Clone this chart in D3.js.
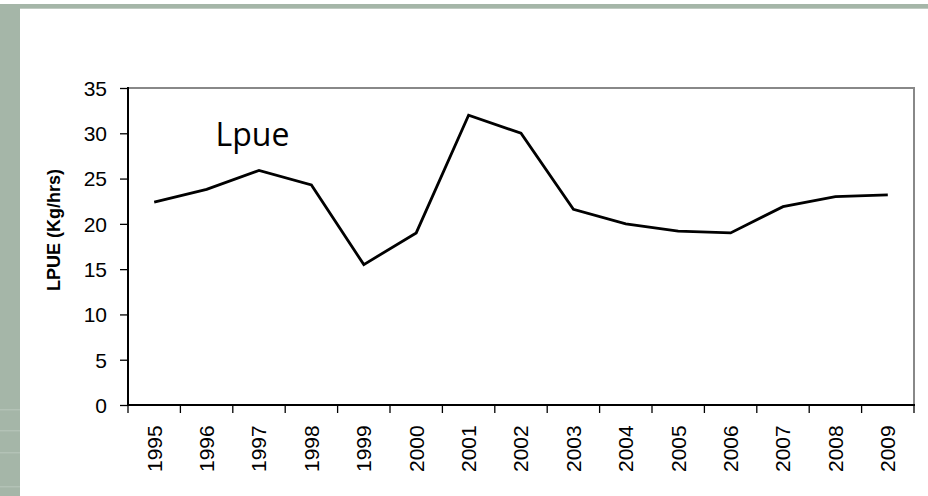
<!DOCTYPE html>
<html>
<head>
<meta charset="utf-8">
<script src="https://cdn.jsdelivr.net/npm/d3@7"></script>
<style>
  body { margin: 0; background: #fff; }
  svg { display: block; }
</style>
</head>
<body>
<div id="vis-parent"></div>
<script>
// data
var years = ['1995','1996','1997','1998','1999','2000','2001','2002','2003','2004','2005','2006','2007','2008','2009'];
var lpue = [22.4, 23.8, 25.9, 24.3, 15.5, 19.0, 32.0, 30.0, 21.6, 20.0, 19.2, 19.0, 21.9, 23.0, 23.2];
var yTicks = [0, 5, 10, 15, 20, 25, 30, 35];

var W = 928, H = 496;
var margin = { top: 88, right: 14, bottom: 91, left: 128 },
    width = W - margin.left - margin.right,
    height = H - margin.top - margin.bottom;

var tickFont = '"Liberation Sans", Arial, sans-serif',
    tickSize = 21;

var svg = d3.select('#vis-parent').append('svg')
    .attr('width', W)
    .attr('height', H);

// slide decoration: top bar + left band
var band = '#a5b6a8';
svg.append('rect')
  .attr('x', 12).attr('y', 4)
  .attr('width', W - 12).attr('height', 4.7)
  .attr('fill', band);

svg.append('rect')
  .attr('x', 0).attr('y', 4)
  .attr('width', 20).attr('height', H - 4)
  .attr('fill', band);

// faint streaks in the lower part of the band
[409, 430, 452, 486].forEach(function(yy){
  svg.append('rect')
    .attr('x', 0).attr('y', yy)
    .attr('width', 20).attr('height', 1.5)
    .attr('fill', '#bccabf')
    .attr('opacity', 0.6);
});

// scales
var x = d3.scaleBand()
  .domain(years)
  .range([0, width]);

var y = d3.scaleLinear()
  .domain([0, 35])
  .range([height, 0]);

var g = svg.append('g')
  .attr('transform', translate(margin.left, margin.top));

// plot area frame (grey top/right)
g.append('rect')
  .attr('width', width)
  .attr('height', height)
  .attr('fill', 'none')
  .attr('stroke', '#888')
  .attr('stroke-width', 2);

// y axis
var yAxis = d3.axisLeft(y)
  .tickValues(yTicks)
  .tickSize(8)
  .tickPadding(13);

g.append('g')
  .attr('class', 'y axis')
  .call(yAxis)
  .call(function(s){
    s.select('.domain').attr('stroke', '#000').attr('stroke-width', 2)
      .attr('d', 'M0,' + (height + 1) + 'V-1');
    s.selectAll('.tick line').attr('stroke', '#000').attr('stroke-width', 1.3);
    s.selectAll('.tick text')
      .attr('font-family', tickFont)
      .attr('font-size', tickSize)
      .attr('fill', '#000')
      .attr('dy', '0.35em');
  });

// x axis, ticks between categories
var xAxis = g.append('g')
  .attr('class', 'x axis')
  .attr('transform', translate(0, height));

xAxis.append('line')
  .attr('x1', -1).attr('x2', width + 1)
  .attr('stroke', '#000').attr('stroke-width', 2);

var edges = years.map(function(d){ return x(d); }).concat([width]);
xAxis.selectAll('.xtick')
  .data(edges)
  .enter().append('line')
    .attr('class', 'xtick')
    .attr('x1', function(d){ return d; })
    .attr('x2', function(d){ return d; })
    .attr('y1', 0).attr('y2', 8)
    .attr('stroke', '#000').attr('stroke-width', 1.3);

xAxis.selectAll('.xlabel')
  .data(years)
  .enter().append('text')
    .attr('class', 'xlabel')
    .attr('transform', function(d){
      return translate(x(d) + x.bandwidth() / 2, 67) + ' rotate(-90)';
    })
    .attr('dy', '0.35em')
    .attr('text-anchor', 'start')
    .attr('font-family', tickFont)
    .attr('font-size', tickSize)
    .attr('fill', '#000')
    .text(function(d){ return d; });

// line
var line = d3.line()
  .x(function(d, i){ return x(years[i]) + x.bandwidth() / 2; })
  .y(function(d){ return y(d); });

g.append('path')
  .datum(lpue)
  .attr('d', line)
  .attr('fill', 'none')
  .attr('stroke', '#000')
  .attr('stroke-width', 2.8)
  .attr('stroke-linejoin', 'miter');

// series label inside plot
g.append('text')
  .attr('x', 215.5 - margin.left)
  .attr('y', 146 - margin.top)
  .attr('font-family', '"Open Sans", "Noto Sans", sans-serif')
  .attr('font-size', 32)
  .attr('fill', '#000')
  .text('Lpue');

// y axis title
svg.append('text')
  .attr('transform', translate(59.5, 230) + ' rotate(-90)')
  .attr('text-anchor', 'middle')
  .attr('font-family', tickFont)
  .attr('font-weight', 'bold')
  .attr('font-size', 18)
  .attr('fill', '#000')
  .text('LPUE (Kg/hrs)');

function translate(x, y){
  return 'translate(' + x + ',' + y + ')';
}
</script>
</body>
</html>
